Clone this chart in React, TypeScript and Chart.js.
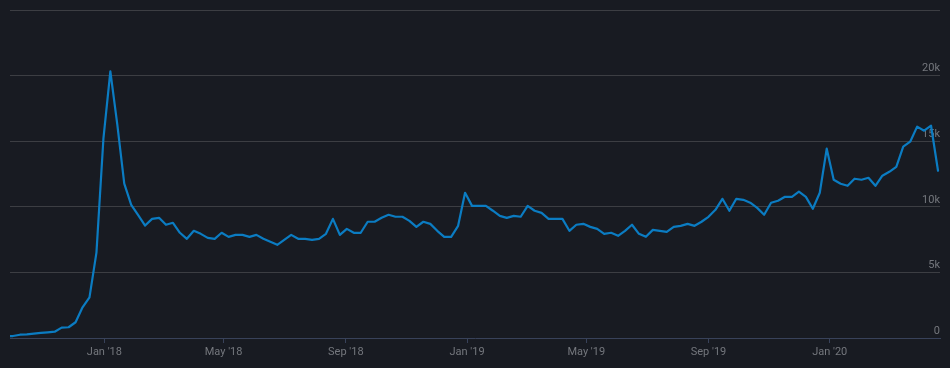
import React, { useEffect, useRef } from "react";
import { Chart, registerables } from "chart.js";

Chart.register(...registerables);

// Weekly series starting on this Sunday
const FIRST_WEEK = "2017-09-24";
const ORIGIN = "2018-01-01";

const VALUES: number[] = [
  120, 150, 250, 280, 340, 390, 435, 480, 790, 820, 1200, 2340, 3100, 6510, 15170,
  20330, 16260, 11760, 10150, 9370, 8570, 9080, 9160, 8630, 8780, 8020, 7560, 8170, 7940, 7630,
  7560, 8020, 7710, 7860, 7860, 7710, 7860, 7560, 7330, 7100, 7480, 7860, 7560, 7560, 7480,
  7560, 7940, 9080, 7860, 8320, 8020, 8020, 8860, 8860, 9160, 9390, 9240, 9240, 8930, 8470,
  8860, 8700, 8170, 7710, 7710, 8550, 11070, 10070, 10070, 10070, 9700, 9310, 9160, 9310, 9240,
  10070, 9700, 9540, 9080, 9080, 9080, 8170, 8630, 8700, 8470, 8320, 7940, 8020, 7790, 8170,
  8630, 7940, 7710, 8240, 8170, 8090, 8470, 8550, 8700, 8550, 8860, 9240, 9770, 10610, 9700,
  10610, 10530, 10310, 9920, 9390, 10310, 10460, 10760, 10760, 11150, 10760, 9850, 11070, 14430, 12060,
  11760, 11600, 12140, 12060, 12210, 11600, 12370, 12670, 13050, 14580, 14960, 16110, 15800, 16180, 12750,
];

const TICK_DATES = ["2018-01-01", "2018-05-01", "2018-09-01", "2019-01-01", "2019-05-01", "2019-09-01", "2020-01-01"];
const TICK_LABELS = ["Jan '18", "May '18", "Sep '18", "Jan '19", "May '19", "Sep '19", "Jan '20"];
const X_RANGE_DATES = ["2017-09-28", "2020-04-21"];

const Y_MAX = 25000;
const Y_STEP = 5000;

const DAY = 86400000;
const dayOf = (d: string) => Math.round((Date.parse(d) - Date.parse(ORIGIN)) / DAY);

const BG = "#181b22";
const GRID = "#3c3e43";
const AXIS = "#38425a";
const TEXT = "#74777d";
const LINE = "#0b7cc2";

export default function App() {
  const ref = useRef<HTMLCanvasElement | null>(null);

  useEffect(() => {
    document.body.style.margin = "0";
    document.body.style.background = BG;
    const start = dayOf(FIRST_WEEK);
    const points = VALUES.map((v, i) => ({ x: start + 7 * i, y: v }));
    const tickDays = TICK_DATES.map(dayOf);
    const font = { family: "Roboto, 'Noto Sans', sans-serif", size: 11 };

    const chart = new Chart(ref.current as HTMLCanvasElement, {
      type: "line",
      data: {
        datasets: [
          {
            data: points,
            borderColor: LINE,
            borderWidth: 2.2,
            borderJoinStyle: "round",
            borderCapStyle: "round",
            pointRadius: 0,
            tension: 0,
            fill: false,
          },
        ],
      },
      options: {
        animation: false,
        responsive: true,
        maintainAspectRatio: false,
        layout: { padding: { left: 10, right: 10, top: 10, bottom: 0 } },
        plugins: { legend: { display: false }, tooltip: { enabled: false } },
        scales: {
          x: {
            type: "linear",
            min: dayOf(X_RANGE_DATES[0]),
            max: dayOf(X_RANGE_DATES[1]),
            afterBuildTicks: (scale: any) => {
              scale.ticks = tickDays.map((v) => ({ value: v }));
            },
            afterFit: (scale: any) => {
              scale.height = 30;
            },
            grid: {
              drawOnChartArea: false,
              drawTicks: true,
              tickLength: 5,
              color: AXIS,
            },
            border: { display: true, color: AXIS, width: 1 },
            ticks: {
              autoSkip: false,
              maxRotation: 0,
              padding: 3,
              color: TEXT,
              font,
              callback: (_v: any, i: number) => TICK_LABELS[i],
            },
          },
          y: {
            position: "right",
            min: 0,
            max: Y_MAX,
            grid: {
              drawTicks: false,
              color: (ctx: any) => (ctx.tick && ctx.tick.value === 0 ? "rgba(0,0,0,0)" : GRID),
            },
            border: { display: false },
            ticks: {
              stepSize: Y_STEP,
              mirror: true,
              padding: 0,
              labelOffset: -7,
              color: TEXT,
              font,
              callback: (v: any) => (v === 0 ? "0" : v === Y_MAX ? "" : v / 1000 + "k"),
            },
          },
        },
      },
    });
    return () => chart.destroy();
  }, []);

  return (
    <div style={{ position: "fixed", left: 0, top: 0, width: 950, height: 368, background: BG }}>
      <canvas ref={ref} />
    </div>
  );
}
